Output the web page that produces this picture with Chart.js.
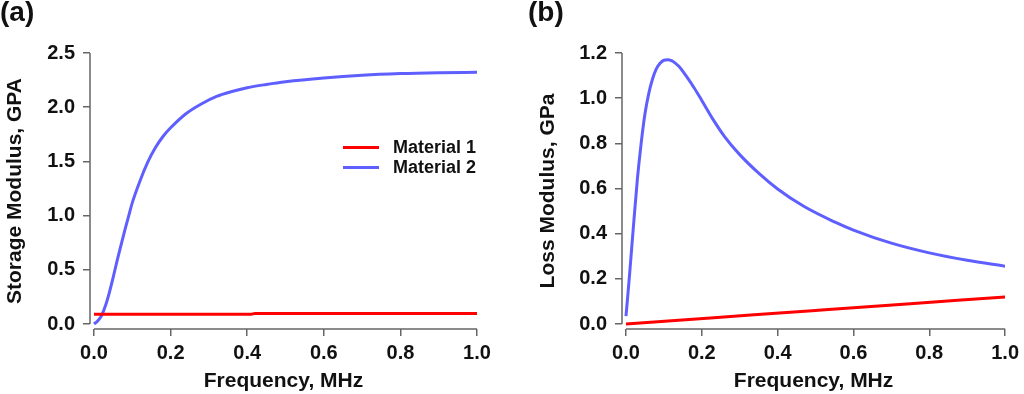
<!DOCTYPE html>
<html>
<head>
<meta charset="utf-8">
<script src="https://cdn.jsdelivr.net/npm/chart.js@4.4.1/dist/chart.umd.min.js"></script>
<style>
    body { margin: 0; background: #fff; font-family: "Liberation Sans", Arial, sans-serif; }
    .panel { position: absolute; top: 0; width: 512px; height: 394px; }
    .panel-label { position: absolute; top: -4px; font-size: 28px; font-weight: bold; color: #111; }
    .legend { position: absolute; left: 343px; top: 137px; }
    .legend-row { display: flex; align-items: center; height: 20.5px; font-size: 18px; font-weight: bold; color: #111; }
    .legend-swatch { width: 36px; height: 3px; margin-right: 14px; }
</style>
</head>
<body>
<div class="panel" style="left:0"><canvas id="storageChart"></canvas></div>
<div class="panel" style="left:512px"><canvas id="lossChart"></canvas></div>
<div class="panel-label" style="left:0">(a)</div>
<div class="panel-label" style="left:528px">(b)</div>
<div class="legend" id="legend"></div>

<script>
// Data
const seriesNames = ['Material 1', 'Material 2'];
const seriesColors = ['#ff0000', '#5f5fff'];

// (a) storage modulus, GPA vs frequency, MHz
const storageFreq = [0, 0.01, 0.02, 0.03, 0.04, 0.05, 0.06, 0.07, 0.08, 0.09, 0.10, 0.12, 0.14, 0.16, 0.18, 0.20,
    0.24, 0.28, 0.32, 0.36, 0.40, 0.45, 0.50, 0.60, 0.70, 0.80, 0.90, 1.00];
const storageMat2 = [0.00, 0.03, 0.08, 0.17, 0.29, 0.43, 0.58, 0.72, 0.86, 0.99, 1.12, 1.32, 1.49, 1.625, 1.73, 1.81,
    1.94, 2.03, 2.10, 2.145, 2.18, 2.21, 2.235, 2.27, 2.295, 2.31, 2.318, 2.322];
const storageMat1Freq = [0, 0.20, 0.41, 0.42, 0.70, 1.00];
const storageMat1 = [0.090, 0.090, 0.090, 0.097, 0.097, 0.098];

// (b) loss modulus, GPa vs frequency, MHz
const lossFreq = [0, 0.005, 0.01, 0.02, 0.03, 0.04, 0.05, 0.06, 0.07, 0.08, 0.09, 0.10, 0.11, 0.12, 0.13, 0.14,
    0.16, 0.18, 0.20, 0.23, 0.26, 0.30, 0.35, 0.40, 0.47, 0.55, 0.60, 0.70, 0.80, 0.90, 1.00];
const lossMat2 = [0.035, 0.13, 0.23, 0.44, 0.64, 0.80, 0.93, 1.02, 1.085, 1.13, 1.155, 1.168, 1.17, 1.166, 1.155, 1.14,
    1.095, 1.045, 0.99, 0.905, 0.83, 0.75, 0.668, 0.598, 0.52, 0.452, 0.416, 0.358, 0.315, 0.282, 0.256];
const lossMat1Freq = [0, 0.25, 0.50, 0.75, 1.00];
const lossMat1 = [0.000, 0.030, 0.060, 0.090, 0.120];

// Tick labels
const freqTicks = [0, 0.2, 0.4, 0.6, 0.8, 1.0];
const storageTicks = [0, 0.5, 1.0, 1.5, 2.0, 2.5];
const lossTicks = [0, 0.2, 0.4, 0.6, 0.8, 1.0, 1.2];

const axisColor = '#666';
const textColor = '#111';
const fontFamily = '"Liberation Sans", Arial, sans-serif';

function toPoints(xs, ys) {
    return xs.map((x, i) => ({ x: x, y: ys[i] }));
}

function makeDataset(label, color, xs, ys) {
    return {
        label: label,
        data: toPoints(xs, ys),
        borderColor: color,
        backgroundColor: color,
        borderWidth: 3,
        pointRadius: 0,
        cubicInterpolationMode: 'monotone',
        fill: false
    };
}

// Igor-style detached axis lines: each spans only from its first tick to its last
const detachedAxes = {
    id: 'detachedAxes',
    afterDraw(chart) {
        const ctx = chart.ctx;
        const { x, y } = chart.scales;
        const area = chart.chartArea;
        ctx.save();
        ctx.strokeStyle = axisColor;
        ctx.lineWidth = 1.5;
        ctx.beginPath();
        ctx.moveTo(area.left, y.getPixelForValue(y.ticks[0].value));
        ctx.lineTo(area.left, y.getPixelForValue(y.ticks[y.ticks.length - 1].value));
        ctx.moveTo(x.getPixelForValue(x.ticks[0].value), area.bottom);
        ctx.lineTo(x.getPixelForValue(x.ticks[x.ticks.length - 1].value), area.bottom);
        ctx.stroke();
        ctx.restore();
    }
};

function buildChart(canvasId, cfg) {
    const ctx = document.getElementById(canvasId).getContext('2d');
    return new Chart(ctx, {
        type: 'line',
        data: { datasets: cfg.datasets },
        options: {
            responsive: true,
            maintainAspectRatio: false,
            animation: false,
            layout: { padding: { top: 53, right: cfg.rightPad, left: 0, bottom: 0 } },
            plugins: {
                legend: { display: false },
                tooltip: { enabled: false }
            },
            scales: {
                x: {
                    type: 'linear',
                    min: -0.0105,
                    max: 1.0,
                    afterBuildTicks: (scale) => { scale.ticks = freqTicks.map(v => ({ value: v })); },
                    afterFit: (scale) => { scale.height = 65; },
                    border: { display: false },
                    grid: { display: true, drawOnChartArea: false, drawTicks: true, tickLength: 7, color: axisColor, lineWidth: 1.5 },
                    ticks: {
                        color: textColor,
                        padding: 5,
                        maxRotation: 0,
                        font: { family: fontFamily, size: 20, weight: 'bold' },
                        callback: (v) => v.toFixed(1)
                    },
                    title: {
                        display: true,
                        text: 'Frequency, MHz',
                        color: textColor,
                        padding: { top: 0, bottom: 0 },
                        font: { family: fontFamily, size: 21, weight: 'bold' }
                    }
                },
                y: {
                    min: cfg.yMin,
                    max: cfg.yMax,
                    afterBuildTicks: (scale) => { scale.ticks = cfg.yTicks.map(v => ({ value: v })); },
                    afterFit: (scale) => { scale.width = cfg.yWidth; },
                    border: { display: false },
                    grid: { display: true, drawOnChartArea: false, drawTicks: true, tickLength: 7, color: axisColor, lineWidth: 1.5 },
                    ticks: {
                        color: textColor,
                        padding: 8,
                        font: { family: fontFamily, size: 20, weight: 'bold' },
                        callback: (v) => v.toFixed(1)
                    },
                    title: {
                        display: true,
                        text: cfg.yTitle,
                        color: textColor,
                        padding: { top: cfg.yTitlePad, bottom: 0 },
                        font: { family: fontFamily, size: 21, weight: 'bold' }
                    }
                }
            }
        },
        plugins: [detachedAxes]
    });
}

const storageChart = buildChart('storageChart', {
    datasets: [
        makeDataset(seriesNames[0], seriesColors[0], storageMat1Freq, storageMat1),
        makeDataset(seriesNames[1], seriesColors[1], storageFreq, storageMat2)
    ],
    yMin: -0.046, yMax: 2.5, yTicks: storageTicks,
    yTitle: 'Storage Modulus, GPA', yTitlePad: 3, yWidth: 90, rightPad: 35
});

const lossChart = buildChart('lossChart', {
    datasets: [
        makeDataset(seriesNames[0], seriesColors[0], lossMat1Freq, lossMat1),
        makeDataset(seriesNames[1], seriesColors[1], lossFreq, lossMat2)
    ],
    yMin: -0.0221, yMax: 1.2, yTicks: lossTicks,
    yTitle: 'Loss Modulus, GPa', yTitlePad: 24, yWidth: 110, rightPad: 16
});

// Legend sits inside panel (a)
const legendEl = document.getElementById('legend');
storageChart.data.datasets.forEach(ds => {
    const row = document.createElement('div');
    row.className = 'legend-row';
    row.innerHTML = `<span class="legend-swatch" style="background:${ds.borderColor}"></span><span>${ds.label}</span>`;
    legendEl.appendChild(row);
});
</script>
</body>
</html>
